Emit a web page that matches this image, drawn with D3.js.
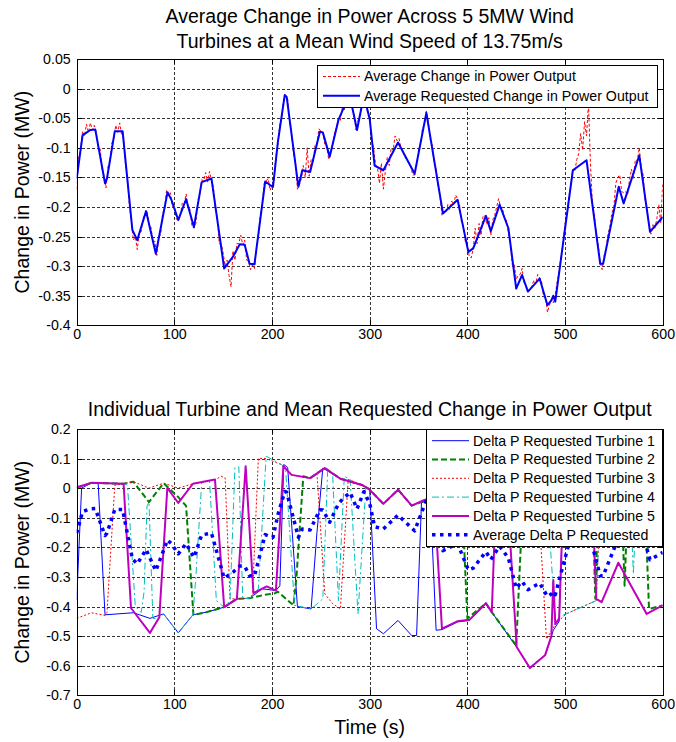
<!DOCTYPE html>
<html>
<head>
<meta charset="utf-8">
<script src="https://cdn.jsdelivr.net/npm/d3@7"></script>
<style>
  body { margin: 0; background: #fff; }
  svg { display: block; font-family: "Liberation Sans", Arial, sans-serif; }
  .grid { stroke: #333; stroke-dasharray: 3 2; stroke-width: 1; shape-rendering: crispEdges; }
  .box { fill: none; stroke: #000; stroke-width: 1; shape-rendering: crispEdges; }
  .tick line { stroke: #000; shape-rendering: crispEdges; }
  .tick text { font-size: 14.2px; fill: #000; }
  .legend text { font-size: 14.2px; fill: #000; }
</style>
</head>
<body>
<div id="chartContainer"></div>
<script>
// ---- data ----

const timeTicks = [0, 100, 200, 300, 400, 500, 600]
const avgTicks = [0.05, 0, -0.05, -0.1, -0.15, -0.2, -0.25, -0.3, -0.35, -0.4]
const turbineTicks = [0.2, 0.1, 0, -0.1, -0.2, -0.3, -0.4, -0.5, -0.6, -0.7]

// average requested change (MW) - [time s, value]
const requested = [
  [0,-0.152],[6,-0.079],[14,-0.070],[19,-0.069],[29,-0.160],[31,-0.152],[39,-0.072],[47,-0.072],
  [57,-0.239],[62,-0.256],[71,-0.207],[81,-0.279],[93,-0.175],[97,-0.188],[104,-0.222],[112,-0.187],
  [120,-0.234],[128,-0.158],[138,-0.152],[151,-0.304],[160,-0.284],[167,-0.263],[172,-0.264],[177,-0.296],
  [182,-0.297],[193,-0.157],[198,-0.163],[201,-0.166],[206,-0.090],[213,-0.011],[215,-0.014],[227,-0.166],
  [231,-0.138],[239,-0.141],[249,-0.073],[252,-0.074],[259,-0.115],[268,-0.053],[273,-0.034],[280,-0.015],
  [287,-0.070],[294,-0.012],[300,-0.051],[305,-0.130],[314,-0.138],[329,-0.091],[346,-0.144],[358,-0.041],
  [375,-0.211],[390,-0.188],[401,-0.276],[406,-0.270],[419,-0.215],[424,-0.241],[433,-0.196],[442,-0.236],
  [450,-0.338],[456,-0.315],[462,-0.343],[474,-0.321],[482,-0.366],[486,-0.358],[488,-0.350],[490,-0.360],
  [508,-0.138],[522,-0.121],[536,-0.296],[539,-0.296],[555,-0.166],[560,-0.194],[576,-0.113],[587,-0.242],
  [600,-0.217]
]

// measured average change (MW), one sample every 2 s from t = 0
const measuredStep = 2
const measured = [
  -0.170,-0.118,-0.104,-0.072,-0.080,-0.060,-0.074,-0.058,-0.070,-0.062,
  -0.074,-0.098,-0.102,-0.136,-0.148,-0.168,-0.132,-0.124,-0.092,-0.084,
  -0.062,-0.074,-0.058,-0.078,-0.084,-0.130,-0.152,-0.200,-0.224,-0.256,
  -0.250,-0.272,-0.244,-0.242,-0.218,-0.214,-0.206,-0.230,-0.234,-0.258,
  -0.258,-0.282,-0.252,-0.246,-0.210,-0.204,-0.172,-0.180,-0.176,-0.200,
  -0.198,-0.220,-0.224,-0.216,-0.194,-0.196,-0.178,-0.200,-0.204,-0.232,
  -0.236,-0.228,-0.190,-0.178,-0.154,-0.156,-0.142,-0.158,-0.140,-0.156,
  -0.166,-0.204,-0.218,-0.262,-0.262,-0.278,-0.300,-0.290,-0.316,-0.335,
  -0.274,-0.290,-0.262,-0.262,-0.248,-0.264,-0.256,-0.290,-0.292,-0.306,
  -0.298,-0.304,-0.270,-0.250,-0.214,-0.198,-0.160,-0.156,-0.152,-0.172,
  -0.164,-0.156,-0.114,-0.094,-0.060,-0.048,-0.016,-0.012,-0.018,-0.056,
  -0.076,-0.110,-0.126,-0.170,-0.162,-0.152,-0.130,-0.150,-0.100,-0.148,
  -0.120,-0.124,-0.096,-0.094,-0.068,-0.072,-0.074,-0.094,-0.096,-0.120,
  -0.106,-0.096,-0.074,-0.066,-0.050,-0.054,-0.032,-0.036,-0.018,-0.020,
  -0.010,-0.034,-0.044,-0.070,-0.054,-0.046,-0.022,-0.014,-0.020,-0.044,
  -0.050,-0.086,-0.100,-0.128,-0.134,-0.160,-0.126,-0.170,-0.140,-0.116,
  -0.130,-0.100,-0.104,-0.080,-0.088,-0.084,-0.100,-0.106,-0.116,-0.120,
  -0.126,-0.130,-0.146,-0.146,-0.130,-0.104,-0.094,-0.068,-0.060,-0.038,
  -0.056,-0.086,-0.096,-0.126,-0.136,-0.166,-0.182,-0.214,-0.208,-0.210,
  -0.196,-0.204,-0.190,-0.196,-0.180,-0.186,-0.196,-0.226,-0.232,-0.260,
  -0.264,-0.284,-0.286,-0.270,-0.236,-0.262,-0.228,-0.248,-0.216,-0.214,
  -0.230,-0.218,-0.248,-0.222,-0.214,-0.200,-0.186,-0.200,-0.202,-0.220,
  -0.222,-0.244,-0.262,-0.298,-0.296,-0.322,-0.316,-0.314,-0.304,-0.328,
  -0.332,-0.342,-0.340,-0.334,-0.324,-0.330,-0.314,-0.320,-0.326,-0.352,
  -0.352,-0.378,-0.366,-0.356,-0.362,-0.348,-0.326,-0.310,-0.282,-0.262,
  -0.228,-0.214,-0.182,-0.164,-0.136,-0.140,-0.120,-0.110,-0.076,-0.104,
  -0.056,-0.080,-0.025,-0.126,-0.194,-0.212,-0.248,-0.264,-0.294,-0.306,
  -0.282,-0.270,-0.246,-0.232,-0.210,-0.200,-0.160,-0.150,-0.146,-0.174,
  -0.176,-0.174,-0.180,-0.154,-0.136,-0.152,-0.120,-0.122,-0.100,-0.134,
  -0.146,-0.190,-0.206,-0.230,-0.246,-0.230,-0.236,-0.220,-0.196,-0.228,
  -0.160
]

// requested change per turbine (MW) - [time s, value]
const turbine1 = [
  [0,-0.377],[5,0.000],[15,0.018],[22,0.016],[29,-0.428],[58,-0.421],[75,-0.440],[89,-0.425],
  [104,-0.489],[119,-0.428],[133,-0.419],[151,-0.402],[164,-0.374],[177,-0.372],[190,-0.340],[204,-0.346],
  [208,-0.330],[212,0.080],[216,0.070],[226,-0.400],[240,-0.408],[246,-0.150],[252,0.068],[270,0.032],
  [292,0.011],[300,-0.005],[307,-0.475],[314,-0.492],[329,-0.447],[343,-0.498],[348,-0.498],[353,-0.050],
  [357,-0.042],[362,-0.030],[368,-0.480],[374,-0.478],[390,-0.452],[402,-0.447],[419,-0.391],[425,-0.419],
  [450,-0.535],[464,-0.606],[480,-0.563],[488,-0.480],[494,-0.450],[498,-0.050],[530,-0.020],[570,-0.050],
  [600,-0.080]
]
const turbine2 = [
  [0,0.000],[15,0.018],[48,0.015],[58,0.022],[74,-0.047],[89,0.017],[95,-0.002],[104,-0.030],
  [112,-0.060],[119.5,-0.428],[133,-0.419],[151,-0.402],[164,-0.374],[177,-0.372],[190,-0.362],[203,-0.355],
  [206,-0.350],[222,-0.396],[225,-0.300],[232,0.040],[239,0.034],[254,0.068],[270,0.032],[292,0.011],
  [299,-0.002],[314,-0.053],[329,-0.005],[343,-0.059],[357,-0.042],[380,-0.060],[395,-0.070],[400,-0.440],
  [419,-0.389],[425,-0.419],[450,-0.532],[456,-0.100],[480,-0.120],[510,-0.030],[528,-0.030],[531,-0.374],
  [534,-0.050],[558,-0.060],[561,-0.330],[564,-0.060],[582,-0.060],[586,-0.408],[600,-0.396]
]
const turbine3 = [
  [0,-0.440],[15,-0.421],[29,-0.430],[31,-0.420],[39,0.010],[48,0.015],[58,0.022],[74,0.000],
  [89,0.017],[104,0.000],[119,0.015],[142,0.029],[148,0.040],[152,0.035],[157,-0.374],[164,-0.374],
  [177,-0.372],[180,-0.360],[186,0.101],[194,0.100],[210,0.079],[220,0.045],[239,0.034],[246,0.050],
  [254,-0.357],[262,-0.390],[270,-0.408],[278,0.030],[292,0.011],[299,-0.002],[314,-0.053],[329,-0.005],
  [343,-0.059],[357,-0.042],[380,-0.060],[420,-0.050],[450,-0.100],[474,-0.120],[481,-0.510],[490,-0.460],
  [501,-0.425],[532,-0.380],[536,-0.040],[570,-0.050],[600,-0.080]
]
const turbine4 = [
  [0,0.000],[15,0.018],[48,0.015],[52,0.010],[60,-0.400],[66,-0.420],[69,-0.350],[72,-0.060],
  [74,-0.047],[78,-0.440],[84,-0.440],[89,-0.425],[104,-0.489],[119,-0.428],[122,-0.300],[128,0.020],
  [136,0.025],[143,-0.380],[151,-0.402],[157,-0.380],[162,0.070],[166,0.072],[170,-0.374],[177,-0.372],
  [186,-0.340],[194,0.108],[210,0.079],[214,0.060],[223,-0.396],[240,-0.408],[252,-0.374],[257,0.060],
  [262,0.050],[268,-0.380],[274,0.040],[280,0.030],[288,-0.425],[296,0.000],[299,-0.002],[314,-0.053],
  [329,-0.005],[343,-0.059],[357,-0.042],[380,-0.060],[420,-0.050],[450,-0.100],[480,-0.120],[484,-0.150],
  [490,-0.440],[501,-0.425],[532,-0.380],[536,-0.040],[567,-0.050],[570,-0.290],[573,-0.050],[600,-0.080]
]
const turbine5 = [
  [0,0.003],[15,0.018],[48,0.015],[55.6,-0.405],[75,-0.489],[84.6,-0.436],[92.8,0.001],[104,-0.050],
  [119,0.015],[141.6,0.029],[151,-0.402],[164,-0.374],[173,0.074],[181,-0.355],[194.5,-0.332],[204,-0.346],
  [211.6,0.074],[220,0.045],[239,0.034],[254,0.068],[270,0.032],[292,0.011],[299,-0.002],[314,-0.053],
  [329,-0.005],[343,-0.059],[356,-0.040],[366,-0.030],[374,-0.475],[389.6,-0.450],[402,-0.445],[419,-0.389],
  [425,-0.419],[429,-0.060],[442,-0.080],[450.5,-0.537],[464,-0.608],[479.5,-0.565],[486,-0.500],[488,-0.310],
  [490,-0.460],[494,-0.440],[498,-0.060],[528,-0.040],[532,-0.374],[537.5,-0.385],[554.6,-0.252],[583.6,-0.425],
  [600,-0.396]
]

const topLegend = ['Average Change in Power Output', 'Average Requested Change in Power Output']
const bottomLegend = ['Delta P Requested Turbine 1', 'Delta P Requested Turbine 2', 'Delta P Requested Turbine 3',
  'Delta P Requested Turbine 4', 'Delta P Requested Turbine 5', 'Average Delta P Requested']

// ---- styles (MATLAB-like) ----
const styles = {
  measured:  {stroke: '#ff0000', width: 1,   dash: '3 2'},
  requested: {stroke: '#0000ff', width: 2,   dash: null},
  t1: {stroke: '#0000ff', width: 1,   dash: null},
  t2: {stroke: '#008000', width: 2,   dash: '6 3'},
  t3: {stroke: '#ff0000', width: 1,   dash: '2 2'},
  t4: {stroke: '#00bfbf', width: 1,   dash: '7 3 2 3'},
  t5: {stroke: '#bf00bf', width: 2,   dash: null},
  avg: {stroke: '#0000ff', width: 3.5, dash: '3.5 4.5'}
}

const width = 676, height = 742

const svg = d3.select('#chartContainer')
  .append('svg')
  .attr('width', width)
  .attr('height', height)

svg.append('rect').attr('width', width).attr('height', height).attr('fill', '#fff')

let x = d3.scaleLinear().domain([0, 600]).range([76.7, 662.7])

let yTop = d3.scaleLinear().domain([-0.4, 0.05]).range([325.3, 59])
let yBot = d3.scaleLinear().domain([-0.7, 0.2]).range([695.3, 429])

let fmt = v => String(+v.toFixed(2))

function frame(y, yTicks, id) {
  const [y0, y1] = y.range()
  const g = svg.append('g')

  g.append('clipPath').attr('id', id)
    .append('rect')
    .attr('x', x.range()[0]).attr('y', y1)
    .attr('width', x.range()[1] - x.range()[0]).attr('height', y0 - y1)

  // dotted grid
  g.append('g').selectAll('line').data(timeTicks.slice(1, -1)).join('line')
    .attr('class', 'grid')
    .attr('x1', d => Math.round(x(d)) + 0.5).attr('x2', d => Math.round(x(d)) + 0.5)
    .attr('y1', y0).attr('y2', y1)
  g.append('g').selectAll('line').data(yTicks.slice(1, -1)).join('line')
    .attr('class', 'grid')
    .attr('y1', d => Math.round(y(d)) + 0.5).attr('y2', d => Math.round(y(d)) + 0.5)
    .attr('x1', x.range()[0]).attr('x2', x.range()[1])

  // ticks on all four sides, pointing in
  g.append('g').attr('transform', `translate(0,${y0})`)
    .call(d3.axisBottom(x).tickValues(timeTicks).tickFormat(fmt).tickSizeInner(-5).tickSizeOuter(0).tickPadding(4))
    .call(a => a.select('.domain').remove())
  g.append('g').attr('transform', `translate(0,${y1})`)
    .call(d3.axisTop(x).tickValues(timeTicks).tickFormat('').tickSizeInner(-5).tickSizeOuter(0))
    .call(a => a.select('.domain').remove())
  g.append('g').attr('transform', `translate(${x.range()[0]},0)`)
    .call(d3.axisLeft(y).tickValues(yTicks).tickFormat(fmt).tickSizeInner(-5).tickSizeOuter(0).tickPadding(6))
    .call(a => a.select('.domain').remove())
  g.append('g').attr('transform', `translate(${x.range()[1]},0)`)
    .call(d3.axisRight(y).tickValues(yTicks).tickFormat('').tickSizeInner(-5).tickSizeOuter(0))
    .call(a => a.select('.domain').remove())

  g.selectAll('.tick text').attr('font-family', null).attr('font-size', null)

  return g
}

function series(g, data, st, clipId, y) {
  let line = d3.line().x(d => x(d[0])).y(d => y(d[1]))
  g.append('path')
    .datum(data)
    .attr('clip-path', `url(#${clipId})`)
    .attr('fill', 'none')
    .attr('stroke', st.stroke)
    .attr('stroke-width', st.width)
    .attr('stroke-dasharray', st.dash)
    .attr('stroke-linejoin', 'round')
    .attr('d', line)
}

function legend(g, labels, sts, x0, y0, w, rowH, padTop) {
  const lg = g.append('g').attr('class', 'legend')
  lg.append('rect')
    .attr('x', x0 + 0.5).attr('y', y0 + 0.5)
    .attr('width', w).attr('height', padTop * 2 + rowH * (labels.length - 1))
    .attr('fill', '#fff').attr('stroke', '#000').attr('shape-rendering', 'crispEdges')
  labels.forEach((lab, i) => {
    const cy = y0 + padTop + i * rowH
    const st = sts[i]
    lg.append('line')
      .attr('x1', x0 + 6).attr('x2', x0 + 43)
      .attr('y1', cy).attr('y2', cy)
      .attr('stroke', st.stroke).attr('stroke-width', st.width)
      .attr('stroke-dasharray', st.dash)
    lg.append('text')
      .attr('x', x0 + 47).attr('y', cy).attr('dy', '0.35em')
      .text(lab)
  })
}

// ---- top: average change ----
const gTop = frame(yTop, avgTicks, 'clipTop')
const measuredPts = measured.map((v, i) => [i * measuredStep, v])
series(gTop, measuredPts, styles.measured, 'clipTop', yTop)
series(gTop, requested, styles.requested, 'clipTop', yTop)
gTop.append('rect').attr('class', 'box')
  .attr('x', Math.round(x(0)) + 0.5).attr('y', Math.round(yTop(0.05)) + 0.5)
  .attr('width', Math.round(x(600)) - Math.round(x(0))).attr('height', Math.round(yTop(-0.4)) - Math.round(yTop(0.05)))
legend(gTop, topLegend, [styles.measured, styles.requested], 317, 65, 340, 19.3, 11.5)

// ---- bottom: individual turbines ----
const gBot = frame(yBot, turbineTicks, 'clipBot')
const turbines = [turbine1, turbine2, turbine3, turbine4, turbine5]
const tStyles = [styles.t1, styles.t2, styles.t3, styles.t4, styles.t5]
turbines.forEach((t, i) => series(gBot, t, tStyles[i], 'clipBot', yBot))
series(gBot, requested, styles.avg, 'clipBot', yBot)
gBot.append('rect').attr('class', 'box')
  .attr('x', Math.round(x(0)) + 0.5).attr('y', Math.round(yBot(0.2)) + 0.5)
  .attr('width', Math.round(x(600)) - Math.round(x(0))).attr('height', Math.round(yBot(-0.7)) - Math.round(yBot(0.2)))
legend(gBot, bottomLegend, tStyles.concat([styles.avg]), 426, 429, 236, 18.8, 11.7)

// ---- titles and axis labels ----
const cx = (x.range()[0] + x.range()[1]) / 2
const titleSize = '19.5px'
svg.append('text').attr('x', cx).attr('y', 23).attr('text-anchor', 'middle').attr('font-size', titleSize)
  .text('Average Change in Power Across 5 5MW Wind')
svg.append('text').attr('x', cx).attr('y', 48).attr('text-anchor', 'middle').attr('font-size', titleSize)
  .text('Turbines at a Mean Wind Speed of 13.75m/s')
svg.append('text').attr('x', cx).attr('y', 416).attr('text-anchor', 'middle').attr('font-size', titleSize)
  .text('Individual Turbine and Mean Requested Change in Power Output')
svg.append('text').attr('x', cx).attr('y', 734).attr('text-anchor', 'middle').attr('font-size', titleSize)
  .text('Time (s)')

;[yTop, yBot].forEach(y => {
  const my = (y.range()[0] + y.range()[1]) / 2
  svg.append('text')
    .attr('transform', `translate(29,${my}) rotate(-90)`)
    .attr('text-anchor', 'middle').attr('font-size', titleSize)
    .text('Change in Power (MW)')
})
</script>
</body>
</html>
